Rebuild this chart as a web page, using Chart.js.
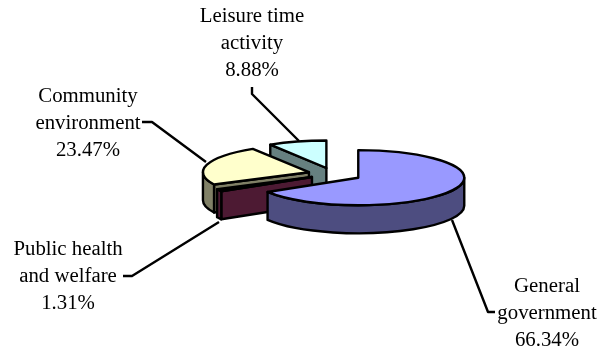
<!DOCTYPE html>
<html>
<head>
<meta charset="utf-8">
<style>
  html, body { margin: 0; padding: 0; background: #fff; }
  #wrap { width: 606px; height: 350px; }
</style>
<script src="https://cdn.jsdelivr.net/npm/chart.js@4"></script>
</head>
<body>
<div id="wrap"><canvas id="pie" width="606" height="350"></canvas></div>
<script>
// Budget shares by function
const categories = [
  ['General', 'government'],
  ['Public health', 'and welfare'],
  ['Community', 'environment'],
  ['Leisure time', 'activity']
];
const shares = [66.34, 1.31, 23.47, 8.88];

const topColors = ['#9999FF', '#993366', '#FFFFCC', '#CCFFFF'];
const sideColors = ['#4D4D80', '#4D1A33', '#808066', '#668080'];

// Tilted-disc appearance
const tilt = 0.26;
const depth = 28;
const explode = [29, 24, 25, 24];
const outline = 2.4;

// Callout placement: label centre, then the leader polyline
const callouts = [
  { x: 547, y: 287, leader: [[495, 312], [488, 312], [452, 220]] },
  { x: 68,  y: 250, leader: [[123, 276], [132, 276], [219, 222]] },
  { x: 88,  y: 97,  leader: [[142, 122], [152, 122], [206, 162]] },
  { x: 252, y: 17,  leader: [[252, 87], [252, 94], [299, 141]] }
];

const pie3d = {
  id: 'pie3d',
  beforeDatasetsDraw(chart) {
    const ctx = chart.ctx;
    const arcs = chart.getDatasetMeta(0).data;

    ctx.save();
    ctx.strokeStyle = '#000';
    ctx.lineWidth = outline;
    ctx.lineJoin = 'round';
    ctx.lineCap = 'butt';

    // Leaders sit underneath the slices
    callouts.forEach(c => {
      ctx.beginPath();
      c.leader.forEach((p, i) => i ? ctx.lineTo(p[0], p[1]) : ctx.moveTo(p[0], p[1]));
      ctx.stroke();
    });

    // Paint from the back slice to the front one
    for (let i = arcs.length - 1; i >= 0; i--) {
      const arc = arcs[i];
      const { x, y, startAngle: s, endAngle: e, outerRadius: r } =
        arc.getProps(['x', 'y', 'startAngle', 'endAngle', 'outerRadius'], true);
      const mid = (s + e) / 2;
      const cx = x + Math.cos(mid) * explode[i];
      const cy = y + Math.sin(mid) * explode[i] * tilt;
      const ry = r * tilt;
      const rim = a => [cx + Math.cos(a) * r, cy + Math.sin(a) * ry];

      const fillStroke = color => {
        ctx.fillStyle = color;
        ctx.fill();
        ctx.stroke();
      };

      // Cut faces that turn toward the viewer
      [[s, s - Math.PI / 2], [e, e + Math.PI / 2]].forEach(([a, normal]) => {
        if (Math.sin(normal) > 1e-6) {
          const [px, py] = rim(a);
          ctx.beginPath();
          ctx.moveTo(cx, cy);
          ctx.lineTo(px, py);
          ctx.lineTo(px, py + depth);
          ctx.lineTo(cx, cy + depth);
          ctx.closePath();
          fillStroke(sideColors[i]);
        }
      });

      // Curved outer wall on the near half of the disc
      const lo = Math.max(s, 0);
      const hi = Math.min(e, Math.PI);
      if (hi > lo) {
        ctx.beginPath();
        ctx.ellipse(cx, cy, r, ry, 0, lo, hi);
        ctx.ellipse(cx, cy + depth, r, ry, 0, hi, lo, true);
        ctx.closePath();
        fillStroke(sideColors[i]);
      }

      // Top face: the arc element itself, flattened by the tilt
      ctx.save();
      ctx.translate(cx, cy);
      ctx.scale(1, tilt);
      ctx.translate(-x, -y);
      arc.draw(ctx);
      ctx.restore();

      ctx.beginPath();
      ctx.moveTo(cx, cy);
      ctx.ellipse(cx, cy, r, ry, 0, s, e);
      ctx.closePath();
      ctx.stroke();
    }

    // Callout text
    ctx.fillStyle = '#000';
    ctx.font = '20.8px "Liberation Serif"';
    ctx.textAlign = 'center';
    ctx.textBaseline = 'middle';
    callouts.forEach((c, i) => {
      const lines = categories[i].concat(shares[i].toFixed(2) + '%');
      lines.forEach((t, n) => ctx.fillText(t, c.x, c.y + n * 27));
    });

    ctx.restore();
    return false;
  }
};

new Chart(document.getElementById('pie'), {
  type: 'pie',
  data: {
    labels: categories,
    datasets: [{
      data: shares,
      backgroundColor: topColors,
      borderWidth: 0
    }]
  },
  options: {
    responsive: false,
    animation: false,
    radius: 106,
    layout: { padding: { left: 60, bottom: 2 } },
    plugins: { legend: { display: false }, tooltip: { enabled: false } }
  },
  plugins: [pie3d]
});
</script>
</body>
</html>
